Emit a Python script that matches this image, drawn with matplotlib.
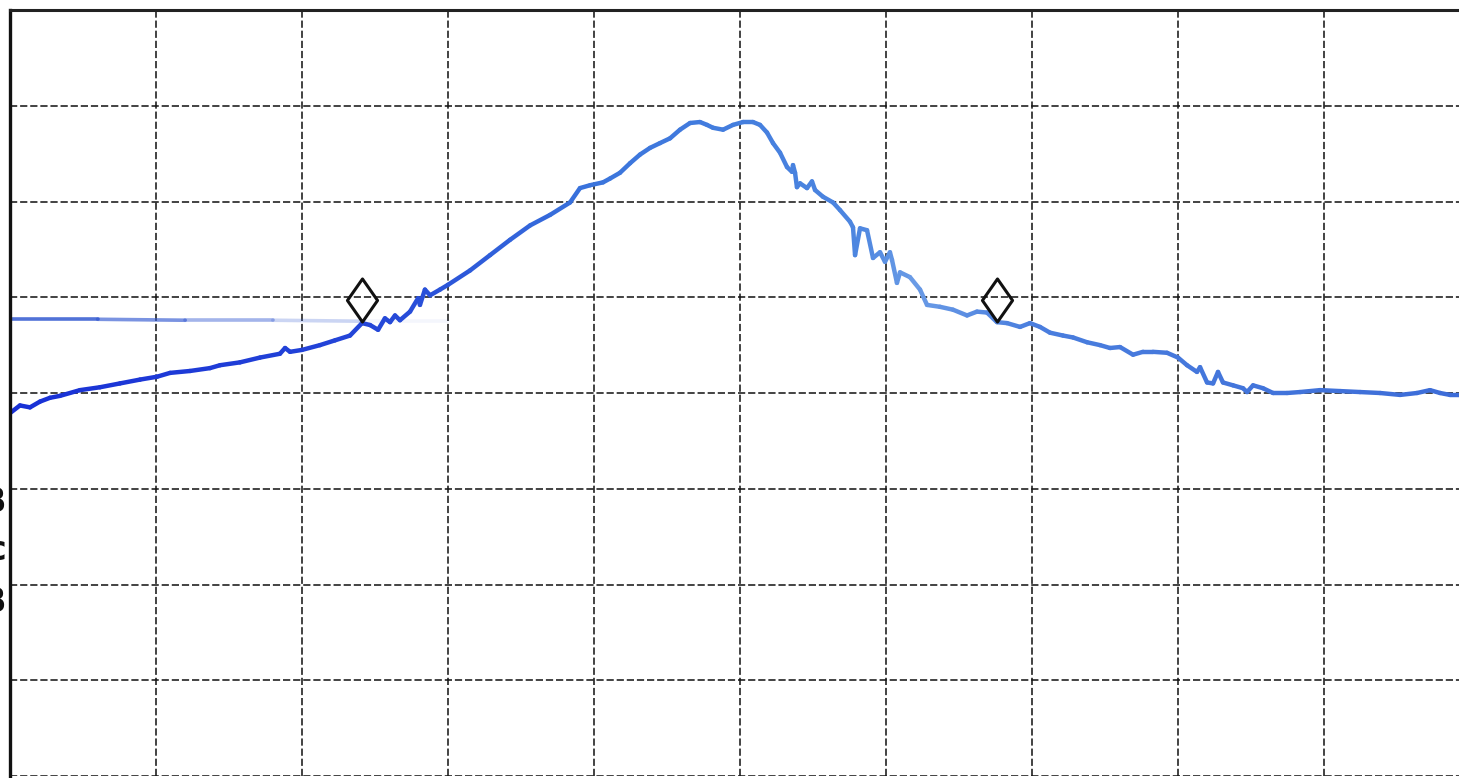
import matplotlib
matplotlib.use("Agg")
import matplotlib.pyplot as plt
import numpy as np
from matplotlib.collections import LineCollection
from matplotlib.colors import LinearSegmentedColormap
from matplotlib.path import Path

# frequency axis in divisions (0..10), level in dB (10 dB/div, ref level 0 dB at top)
trace_x = [
    0.000, 0.068, 0.137, 0.205, 0.274, 0.342, 0.479, 0.616, 0.753, 0.890,
    1.007, 1.096, 1.233, 1.370, 1.438, 1.575, 1.712, 1.849, 1.884, 1.918,
    2.000, 2.123, 2.226, 2.329, 2.411, 2.466, 2.521, 2.568, 2.603, 2.637,
    2.671, 2.740, 2.795, 2.808, 2.842, 2.877, 2.945, 3.000, 3.151, 3.288,
    3.425, 3.562, 3.699, 3.836, 3.904, 3.973, 4.062, 4.110, 4.178, 4.247,
    4.315, 4.384, 4.452, 4.521, 4.589, 4.658, 4.726, 4.774, 4.815, 4.884,
    4.952, 5.021, 5.089, 5.137, 5.185, 5.226, 5.274, 5.322, 5.356, 5.363,
    5.377, 5.390, 5.411, 5.459, 5.493, 5.514, 5.568, 5.637, 5.685, 5.753,
    5.774, 5.788, 5.822, 5.870, 5.911, 5.959, 5.993, 6.027, 6.041, 6.075,
    6.096, 6.164, 6.233, 6.281, 6.370, 6.459, 6.555, 6.623, 6.692, 6.760,
    6.829, 6.918, 6.986, 7.055, 7.123, 7.212, 7.281, 7.377, 7.466, 7.534,
    7.603, 7.692, 7.760, 7.829, 7.925, 8.000, 8.062, 8.130, 8.151, 8.199,
    8.240, 8.274, 8.308, 8.377, 8.445, 8.473, 8.514, 8.582, 8.651, 8.747,
    8.836, 8.973, 9.110, 9.247, 9.384, 9.521, 9.637, 9.726, 9.795, 9.863,
    9.925,
]
trace_db = [
    -42.1, -41.3, -41.5, -40.9, -40.5, -40.3, -39.7, -39.4, -39.0, -38.6,
    -38.3, -37.9, -37.7, -37.4, -37.1, -36.8, -36.3, -35.9, -35.3, -35.7,
    -35.5, -35.0, -34.5, -34.0, -32.7, -32.9, -33.4, -32.2, -32.6, -31.9,
    -32.4, -31.5, -30.1, -30.8, -29.2, -29.8, -29.2, -28.7, -27.2, -25.6,
    -24.0, -22.5, -21.4, -20.1, -18.6, -18.3, -18.0, -17.6, -17.0, -16.0,
    -15.1, -14.4, -13.9, -13.4, -12.5, -11.8, -11.7, -12.0, -12.3, -12.5,
    -12.0, -11.7, -11.7, -12.0, -12.8, -13.9, -14.9, -16.4, -16.9, -16.2,
    -17.0, -18.5, -18.1, -18.6, -17.9, -18.8, -19.5, -20.1, -20.9, -22.1,
    -22.7, -25.6, -22.8, -23.0, -25.9, -25.3, -26.3, -25.3, -26.1, -28.5,
    -27.4, -27.9, -29.2, -30.8, -31.0, -31.3, -31.9, -31.5, -31.6, -32.6,
    -32.7, -33.1, -32.7, -33.1, -33.7, -34.0, -34.2, -34.7, -35.0, -35.3,
    -35.2, -36.0, -35.7, -35.7, -35.8, -36.3, -37.1, -37.8, -37.3, -38.9,
    -39.0, -37.8, -38.9, -39.2, -39.5, -39.9, -39.2, -39.5, -40.0, -40.0,
    -39.9, -39.7, -39.8, -39.9, -40.0, -40.2, -40.0, -39.7, -40.0, -40.2,
    -40.2,
]

# faint reference trace on the left
ref_x = [0.0, 0.6, 1.2, 1.8, 2.4, 3.0]
ref_db = [-32.3, -32.3, -32.4, -32.4, -32.5, -32.5]

# marker diamonds
marker_x = [2.411, 6.760]
marker_db = [-30.3, -30.3]

fig = plt.figure(figsize=(14.59, 7.78), dpi=100)
fig.patch.set_facecolor("white")
ax = fig.add_axes([10 / 1459, 2 / 778, 1460 / 1459, 766 / 778])
ax.set_xlim(0, 10)
ax.set_ylim(-80, 0)

ax.set_xticks(range(0, 11))
ax.set_yticks(range(-80, 1, 10))
ax.tick_params(length=0, labelleft=False, labelbottom=False)
ax.grid(True, color="#111111", linestyle=(0, (4, 1.6)), linewidth=1.3, alpha=0.85)
for side in ("right", "bottom"):
    ax.spines[side].set_visible(False)
ax.spines["left"].set_linewidth(2.4)
ax.spines["top"].set_linewidth(2.2)
ax.spines["left"].set_color("#111111")
ax.spines["top"].set_color("#222222")

# reference trace, fading out to the right
rx = np.asarray(ref_x)
ry = np.asarray(ref_db)
ref_pts = np.column_stack([rx, ry]).reshape(-1, 1, 2)
ref_segs = np.concatenate([ref_pts[:-1], ref_pts[1:]], axis=1)
ref_alpha = np.linspace(0.85, 0.05, len(ref_segs))
ref_cols = [(0.20, 0.35, 0.82, a) for a in ref_alpha]
ax.add_collection(LineCollection(ref_segs, colors=ref_cols, linewidths=2.6, capstyle="round"))

# main trace with colour drifting from deep to lighter blue
tx = np.asarray(trace_x)
ty = np.asarray(trace_db)
pts = np.column_stack([tx, ty]).reshape(-1, 1, 2)
segs = np.concatenate([pts[:-1], pts[1:]], axis=1)
cmap = LinearSegmentedColormap.from_list(
    "trace",
    [(0.0, "#1830d6"), (0.25, "#2446d8"), (0.4, "#3a74dc"),
     (0.58, "#4d86e0"), (0.62, "#6a9be6"), (0.7, "#4a7ede"), (1.0, "#3c6cd8")],
)
lc = LineCollection(segs, cmap=cmap, linewidths=3.2, capstyle="round", joinstyle="round")
lc.set_array((tx[:-1] + tx[1:]) / 2 / 10)
lc.set_clim(0, 1)
ax.add_collection(lc)

# tall diamond markers
diamond = Path([(0, 1), (0.7, 0), (0, -1), (-0.7, 0), (0, 1)],
               [Path.MOVETO, Path.LINETO, Path.LINETO, Path.LINETO, Path.CLOSEPOLY])
ax.plot(marker_x, marker_db, linestyle="none", marker=diamond, markersize=31,
        markerfacecolor="none", markeredgecolor="#111111", markeredgewidth=2.2)

# clipped labels on the left edge of the scan
for txt, ypx in [("B", 503), ("c", 551), ("B", 603)]:
    fig.text(6 / 1459, 1 - ypx / 778, txt, ha="right", va="center",
             fontsize=24, fontweight="bold", color="#111111")

fig.savefig("out.png", dpi=100)
